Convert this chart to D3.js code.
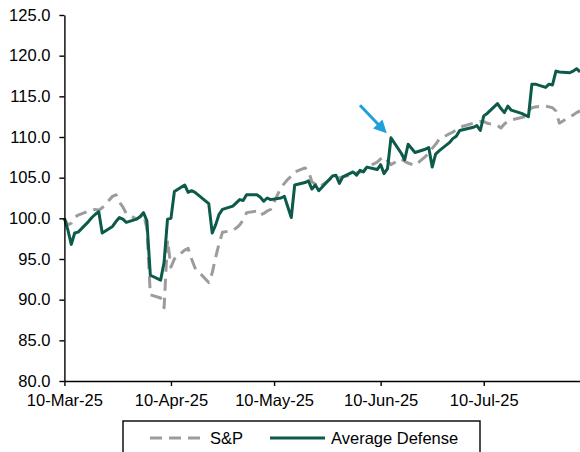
<!DOCTYPE html>
<html>
<head>
<meta charset="utf-8">
<script src="https://cdn.jsdelivr.net/npm/d3@7"></script>
<style>
  html, body { margin: 0; padding: 0; background: #fff; }
  svg { display: block; font-family: "Liberation Sans", Arial, sans-serif; }
</style>
</head>
<body>
<svg id="chart" width="580" height="452"></svg>
<script>
// Trading days, 10 Mar 2025 to 7 Aug 2025 (rebased to 100)
const dates = [
  "2025-03-10","2025-03-11","2025-03-12","2025-03-13","2025-03-14","2025-03-17","2025-03-18","2025-03-19","2025-03-20","2025-03-21",
  "2025-03-24","2025-03-25","2025-03-26","2025-03-27","2025-03-28","2025-03-31",
  "2025-04-01","2025-04-02","2025-04-03","2025-04-04","2025-04-07","2025-04-08","2025-04-09","2025-04-10","2025-04-11",
  "2025-04-14","2025-04-15","2025-04-16","2025-04-17","2025-04-21","2025-04-22","2025-04-23","2025-04-24","2025-04-25",
  "2025-04-28","2025-04-29","2025-04-30",
  "2025-05-01","2025-05-02","2025-05-05","2025-05-06","2025-05-07","2025-05-08","2025-05-09","2025-05-12","2025-05-13",
  "2025-05-14","2025-05-15","2025-05-16","2025-05-19","2025-05-20","2025-05-21","2025-05-22","2025-05-23","2025-05-27",
  "2025-05-28","2025-05-29","2025-05-30",
  "2025-06-02","2025-06-03","2025-06-04","2025-06-05","2025-06-06","2025-06-09","2025-06-10","2025-06-11","2025-06-12",
  "2025-06-13","2025-06-16","2025-06-17","2025-06-18","2025-06-20","2025-06-23","2025-06-24","2025-06-25","2025-06-26",
  "2025-06-27","2025-06-30",
  "2025-07-01","2025-07-02","2025-07-03","2025-07-07","2025-07-08","2025-07-09","2025-07-10","2025-07-11","2025-07-14",
  "2025-07-15","2025-07-16","2025-07-17","2025-07-18","2025-07-21","2025-07-22","2025-07-23","2025-07-24","2025-07-25",
  "2025-07-28","2025-07-29","2025-07-30","2025-07-31",
  "2025-08-01","2025-08-04","2025-08-05","2025-08-06","2025-08-07"
];

const spValues = [
  100.0, 99.2, 99.4, 100.1, 100.4, 100.9, 101.0, 101.1, 101.0, 101.3,
  102.7, 102.9, 102.0, 101.4, 100.6, 99.9,
  100.2, 100.5, 98.8, 90.6, 90.2, 89.0, 97.3, 94.0, 95.0,
  96.1, 96.3, 95.0, 93.9, 92.1, 93.3, 95.2, 96.9, 98.3,
  98.5, 98.8, 99.2,
  99.8, 100.7, 100.9, 100.4, 100.6, 100.9, 101.1, 103.8, 104.3,
  104.8, 105.2, 105.7, 106.2, 105.8, 104.5, 104.2, 103.8, 105.0,
  104.8, 105.0, 105.1,
  105.4, 105.6, 105.7, 105.8, 106.3, 106.9, 107.3, 107.6, 107.1,
  106.6, 107.3, 107.0, 106.8, 106.5, 107.6, 108.0, 108.6, 109.1,
  109.7, 110.4,
  110.6, 110.9, 111.2, 111.7, 111.8, 111.9, 111.9, 111.7, 111.4,
  111.1, 111.6, 111.9, 112.1, 112.4, 112.5, 113.2, 113.6, 113.7,
  113.8, 113.7, 113.6, 113.2,
  111.7, 112.5, 112.7, 113.0, 113.2
];

const defenseValues = [
  100.0, 98.6, 96.8, 98.2, 98.3, 99.6, 100.1, 100.5, 100.8, 98.2,
  99.0, 99.6, 100.1, 99.9, 99.5, 99.9,
  100.2, 100.7, 99.7, 93.0, 92.4, 94.6, 99.9, 100.0, 103.3,
  104.1, 103.2, 103.4, 103.2, 101.8, 98.2, 99.2, 100.5, 101.1,
  101.5, 101.9, 102.3,
  102.2, 102.9, 102.9, 102.6, 102.1, 102.5, 102.3, 102.5, 102.7,
  101.4, 100.1, 104.1, 104.4, 104.6, 103.6, 104.1, 103.4, 105.2,
  105.3, 104.3, 105.1,
  105.7, 105.3, 105.9, 105.7, 106.3, 106.0, 106.6, 105.5, 106.1,
  109.9, 108.0, 107.2, 109.1, 108.1, 108.5, 108.7, 106.3, 107.9,
  108.3, 109.3,
  109.8, 110.1, 110.8, 111.2, 111.4, 110.8, 112.6, 112.9, 114.1,
  113.5, 113.0, 113.8, 113.3, 112.9, 112.7, 112.5, 116.5, 116.5,
  116.1, 116.5, 116.4, 118.1,
  118.0, 117.9, 118.1, 118.4, 118.0
];

const yTicks = [80, 85, 90, 95, 100, 105, 110, 115, 120, 125];
const xTickDates = ["2025-03-10", "2025-04-10", "2025-05-10", "2025-06-10", "2025-07-10"];
const seriesNames = ["S&P", "Average Defense"];

// Annotation arrow pointing at the mid-June jump: [date, value] tail and tip
const arrowTail = ["2025-06-04", 113.9];
const arrowTip = ["2025-06-11", 110.8];

const parse = d3.timeParse("%Y-%m-%d");
const fmtX = d3.timeFormat("%d-%b-%y");

const svg = d3.select("#chart");
const FONT = "16.5px";

const x = d3.scaleTime()
  .domain([parse(dates[0]), parse(dates[dates.length - 1])])
  .range([64.4, 580]);

const y = d3.scaleLinear()
  .domain([80, 125])
  .range([381, 15]);

const sp = dates.map((d, i) => ({ date: parse(d), value: spValues[i] }));
const def = dates.map((d, i) => ({ date: parse(d), value: defenseValues[i] }));

const line = d3.line().x(d => x(d.date)).y(d => y(d.value));

// S&P (dashed grey)
svg.append("path")
  .datum(sp)
  .attr("fill", "none")
  .attr("stroke", "#9c9c9c")
  .attr("stroke-width", 3)
  .attr("stroke-dasharray", "12,7")
  .attr("stroke-linejoin", "round")
  .attr("d", line);

// Average Defense (solid dark green)
svg.append("path")
  .datum(def)
  .attr("fill", "none")
  .attr("stroke", "#0b5a4a")
  .attr("stroke-width", 3)
  .attr("stroke-linejoin", "round")
  .attr("d", line);

// Y axis
const yAxis = svg.append("g")
  .attr("transform", `translate(${x.range()[0]},0)`)
  .call(d3.axisLeft(y).tickValues(yTicks).tickFormat(d3.format(".1f"))
    .tickSize(5).tickSizeOuter(0).tickPadding(9));

// X axis
const xAxis = svg.append("g")
  .attr("transform", `translate(0,${y.range()[0]})`)
  .call(d3.axisBottom(x).tickValues(xTickDates.map(parse)).tickFormat(fmtX)
    .tickSize(5).tickSizeOuter(0).tickPadding(8));

[yAxis, xAxis].forEach(g => {
  g.selectAll("path.domain").attr("stroke", "#000").attr("stroke-width", 1.4);
  g.selectAll(".tick line").attr("stroke", "#000").attr("stroke-width", 1.4);
  g.selectAll(".tick text")
    .attr("fill", "#000")
    .style("font-family", "'Liberation Sans', Arial, sans-serif")
    .style("font-size", FONT);
});

// Arrow annotation
const defs = svg.append("defs");
defs.append("marker")
  .attr("id", "arrowhead")
  .attr("viewBox", "0 0 10 10")
  .attr("refX", 7)
  .attr("refY", 5)
  .attr("markerUnits", "userSpaceOnUse")
  .attr("markerWidth", 13)
  .attr("markerHeight", 13)
  .attr("orient", "auto")
  .append("path")
  .attr("d", "M0,0 L10,5 L0,10 Z")
  .attr("fill", "#1f9fdb");

svg.append("line")
  .attr("x1", x(parse(arrowTail[0])))
  .attr("y1", y(arrowTail[1]))
  .attr("x2", x(parse(arrowTip[0])))
  .attr("y2", y(arrowTip[1]))
  .attr("stroke", "#1f9fdb")
  .attr("stroke-width", 3)
  .attr("marker-end", "url(#arrowhead)");

// Legend
const legend = svg.append("g");
legend.append("rect")
  .attr("x", 123).attr("y", 421)
  .attr("width", 357).attr("height", 45)
  .attr("fill", "#fff")
  .attr("stroke", "#000")
  .attr("stroke-width", 1.4);

const legendItems = [
  { name: seriesNames[0], x0: 150, x1: 204, tx: 210, stroke: "#9c9c9c", dash: "12,7" },
  { name: seriesNames[1], x0: 270, x1: 325, tx: 331, stroke: "#0b5a4a", dash: null }
];
const ly = 438;
legendItems.forEach(it => {
  legend.append("line")
    .attr("x1", it.x0).attr("x2", it.x1)
    .attr("y1", ly).attr("y2", ly)
    .attr("stroke", it.stroke)
    .attr("stroke-width", 3)
    .attr("stroke-dasharray", it.dash);
  legend.append("text")
    .attr("x", it.tx).attr("y", ly + 6)
    .attr("fill", "#000")
    .style("font-size", FONT)
    .text(it.name);
});
</script>
</body>
</html>
